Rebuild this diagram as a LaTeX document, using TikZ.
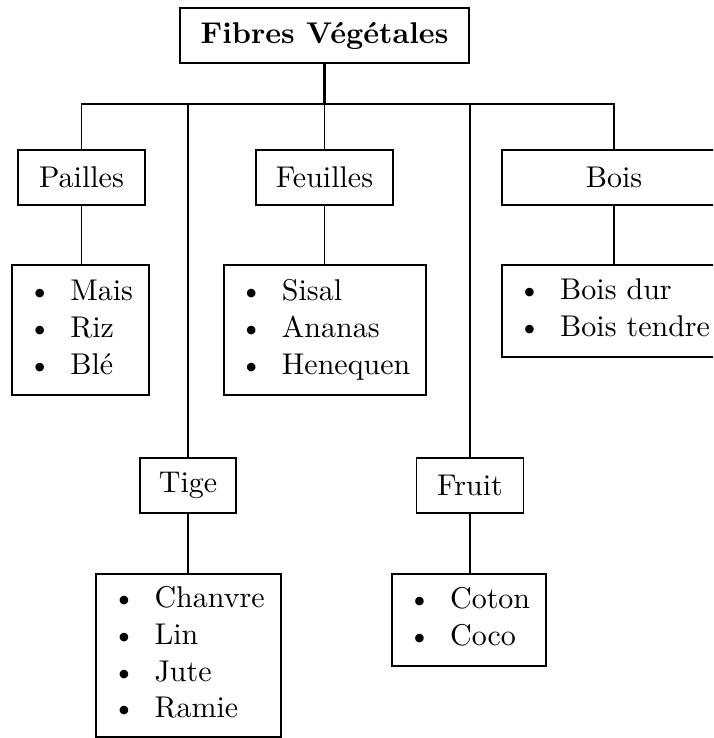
\documentclass[tikz,border=0pt]{standalone}
\usepackage{fontspec}
\newdimen\pxu \pxu=0.33333pt
\newcommand{\bl}[1]{\raisebox{-1pt}{\renewcommand{\arraystretch}{1.02}\begin{tabular}{@{}l@{\hspace{6.3pt}}l@{}}#1\end{tabular}}}
\begin{document}
\begin{tikzpicture}[x=0.33333pt,y=-0.33333pt,
  box/.style={draw,line width=0.5pt,inner sep=0pt,outer sep=0pt,font=\normalsize},
  conn/.style={line width=0.5pt}]
\useasboundingbox (0,0) rectangle (713,738);
\clip (0,0) rectangle (713,738);
\node[box,line width=0.6pt,minimum width=289\pxu,minimum height=55\pxu] (root) at (324.5,35.5) {\textbf{Fibres Végétales}};
\node[box,minimum width=127\pxu,minimum height=55\pxu] (pailles) at (81.5,177.5) {Pailles};
\node[box,minimum width=137\pxu,minimum height=55\pxu] (feuilles) at (324.5,177.5) {Feuilles};
\node[box,minimum width=224\pxu,minimum height=55\pxu] (bois) at (614,177.5) {Bois};
\node[box,minimum width=96\pxu,minimum height=55\pxu] (tige) at (188,485.5) {Tige};
\node[box,minimum width=107\pxu,minimum height=55\pxu] (fruit) at (470,485.5) {Fruit};
\node[box,minimum width=137\pxu,minimum height=130\pxu] (mais) at (80.5,330) {\bl{\textbullet & Mais\\ \textbullet & Riz\\ \textbullet & Blé}};
\node[box,minimum width=202\pxu,minimum height=130\pxu] (sisal) at (325,330) {\bl{\textbullet & Sisal\\ \textbullet & Ananas\\ \textbullet & Henequen}};
\node[box,minimum width=224\pxu,minimum height=92\pxu] (boisdur) at (614,311) {\bl{\textbullet & Bois dur\\ \textbullet & Bois tendre}};
\node[box,minimum width=185\pxu,minimum height=163\pxu] (chanvre) at (188.5,655.5) {\bl{\textbullet & Chanvre\\ \textbullet & Lin\\ \textbullet & Jute\\ \textbullet & Ramie}};
\node[box,minimum width=154\pxu,minimum height=92\pxu] (coton) at (469,620) {\bl{\textbullet & Coton\\ \textbullet & Coco}};
\coordinate (bar) at (root.south |- 0,104);
\draw[conn,line width=0.8pt] (root.south) -- (bar);
\draw[conn] (bar) -| (pailles.north);
\draw[conn] (bar) -| (tige.north);
\draw[conn] (bar) -- (feuilles.north);
\draw[conn] (bar) -| (fruit.north);
\draw[conn] (bar) -| (bois.north);
\draw[conn] (pailles.south) -- (pailles.south |- mais.north);
\draw[conn] (feuilles.south) -- (feuilles.south |- sisal.north);
\draw[conn] (bois.south) -- (bois.south |- boisdur.north);
\draw[conn] (tige.south) -- (tige.south |- chanvre.north);
\draw[conn] (fruit.south) -- (fruit.south |- coton.north);
\end{tikzpicture}
\end{document}
